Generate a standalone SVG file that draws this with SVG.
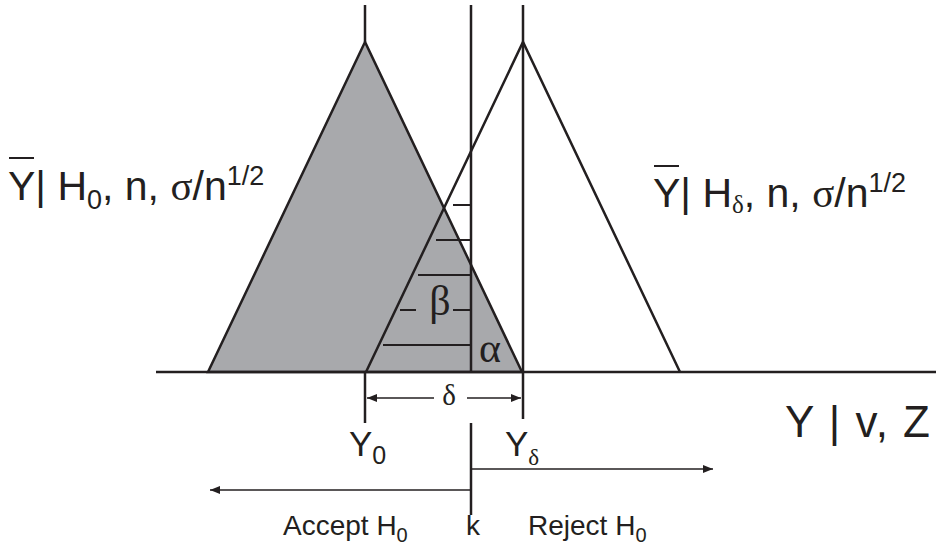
<svg xmlns="http://www.w3.org/2000/svg" width="938" height="547" viewBox="0 0 938 547">
<style>
.ln{stroke:#231f20;stroke-width:2.5;fill:none;stroke-linecap:butt}
.th{stroke:#231f20;stroke-width:2;fill:none}
.ar{stroke:#231f20;stroke-width:1.5;fill:none}
.t{font-family:"Liberation Sans",Arial,sans-serif;fill:#231f20}
.s{font-family:"Liberation Serif","Times New Roman",serif;fill:#231f20}
</style>
<defs>
<marker id="ah" viewBox="0 0 10 8" refX="10" refY="4" markerWidth="10" markerHeight="8" markerUnits="userSpaceOnUse" orient="auto-start-reverse">
<path d="M0,0 L10,4 L0,8 Z" fill="#231f20"/>
</marker>
</defs>
<rect width="938" height="547" fill="#ffffff"/>
<g id="h0-distribution">
<polygon points="365,42 208,372 522,372" fill="#a8a9ac" stroke="#231f20" stroke-width="2.5" stroke-linejoin="miter"/>
</g>
<g id="hdelta-distribution">
<polyline points="366,372 523,42 680,372" class="ln"/>
</g>
<g id="connectors">
<line x1="156" y1="372" x2="936" y2="372" class="ln"/>
<line x1="365" y1="5" x2="365" y2="42" class="ln"/>
<line x1="365" y1="372" x2="365" y2="423" class="ln"/>
<line x1="523" y1="5" x2="523" y2="419" class="ln"/>
<line x1="471" y1="5" x2="471" y2="372" class="ln"/>
<line x1="471" y1="423" x2="471" y2="515" class="ln"/>
<line x1="453" y1="205" x2="471" y2="205" class="th"/>
<line x1="436" y1="240" x2="471" y2="240" class="th"/>
<line x1="418" y1="275" x2="471" y2="275" class="th"/>
<line x1="400" y1="310" x2="416" y2="310" class="th"/>
<line x1="453" y1="310" x2="471" y2="310" class="th"/>
<line x1="383" y1="345" x2="471" y2="345" class="th"/>
<line x1="434" y1="398" x2="367" y2="398" class="ar" marker-end="url(#ah)"/>
<line x1="467" y1="398" x2="521" y2="398" class="ar" marker-end="url(#ah)"/>
<line x1="471" y1="469" x2="713" y2="469" class="ar" marker-end="url(#ah)"/>
<line x1="471" y1="490" x2="210" y2="490" class="ar" marker-end="url(#ah)"/>
</g>
<g id="label-h0">
<line x1="9" y1="158" x2="34" y2="158" class="th"/>
<text x="8" y="200" class="t" font-size="41">Y| H<tspan font-size="27" dy="9">0</tspan><tspan dy="-9">, n, </tspan><tspan class="s">σ</tspan>/n<tspan font-size="27" dy="-15">1/2</tspan></text>
</g>
<g id="label-hdelta">
<line x1="654" y1="166" x2="679" y2="166" class="th"/>
<text x="653" y="207" class="t" font-size="41">Y| H<tspan class="s" font-size="25" dy="6">δ</tspan><tspan dy="-6">, n, </tspan><tspan class="s">σ</tspan>/n<tspan font-size="27" dy="-15">1/2</tspan></text>
</g>
<g id="greek">
<text x="440" y="315" class="s" font-size="42" text-anchor="middle">β</text>
<text x="490" y="362" class="s" font-size="42" text-anchor="middle">α</text>
<text x="449" y="405" class="s" font-size="29" text-anchor="middle">δ</text>
</g>
<g id="axis-labels">
<text x="785" y="437" class="t" font-size="44" textLength="145" lengthAdjust="spacing">Y | v, Z</text>
<text x="349" y="456" class="t" font-size="35">Y<tspan font-size="25" dy="8">0</tspan></text>
<text x="505" y="456" class="t" font-size="35">Y<tspan class="s" font-size="23" dy="9">δ</tspan></text>
</g>
<g id="decision-labels">
<text x="283" y="535" class="t" font-size="28">Accept H<tspan font-size="20" dy="7">0</tspan></text>
<text x="473" y="535" class="t" font-size="28" text-anchor="middle">k</text>
<text x="528" y="535" class="t" font-size="28">Reject H<tspan font-size="20" dy="7">0</tspan></text>
</g>
</svg>
